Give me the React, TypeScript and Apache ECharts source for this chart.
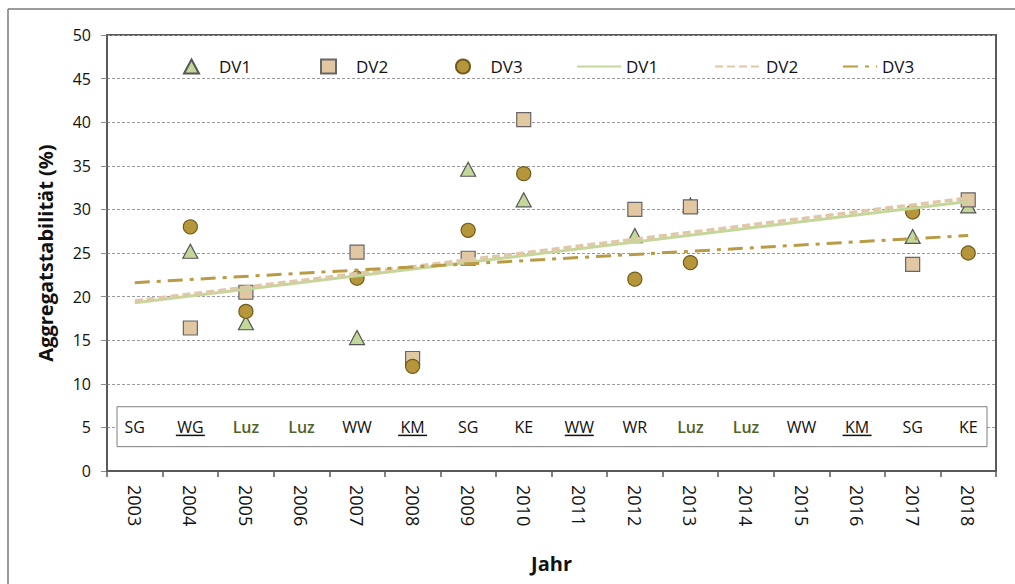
import React, { useEffect, useRef } from "react";
import * as echarts from "echarts";

const years = ["2003","2004","2005","2006","2007","2008","2009","2010","2011","2012","2013","2014","2015","2016","2017","2018"];
const dv1 = [null, 25.2, 17.0, null, 15.3, null, 34.6, 31.1, null, 27.0, 30.5, null, null, null, 26.9, 30.4];
const dv2 = [null, 16.4, 20.5, null, 25.1, 12.9, 24.4, 40.3, null, 30.0, 30.3, null, null, null, 23.7, 31.1];
const dv3 = [null, 28.0, 18.3, null, 22.1, 12.0, 27.6, 34.1, null, 22.0, 23.9, null, null, null, 29.7, 25.0];
const trendYears = ["2003", "2018"];
const trendDV1 = [19.3, 30.9];
const trendDV2 = [19.5, 31.3];
const trendDV3 = [21.6, 27.0];
const cropLabels = ["SG","WG","Luz","Luz","WW","KM","SG","KE","WW","WR","Luz","Luz","WW","KM","SG","KE"];
const cropUnderlined = [false,true,false,false,false,true,false,false,true,false,false,false,false,true,false,false];
const cropLabelRow = 5;
const cropBoxTop = 7.37;
const cropBoxBottom = 2.79;
const yTicks = { min: 0, max: 50, interval: 5 };

const FONT = "'Open Sans', 'Noto Sans', sans-serif";

const pts = (arr: (number | null)[]) =>
  arr.map((v, i) => (v == null ? null : [i, v])).filter((d) => d !== null);
const trend = (arr: number[]) => arr.map((v, i) => [years.indexOf(trendYears[i]), v]);

export default function App() {
  const ref = useRef<HTMLDivElement>(null);
  useEffect(() => {
    if (!ref.current) return;
    const chart = echarts.init(ref.current, null, { renderer: "svg" });
    const legendText = { fontFamily: FONT, fontSize: 17, color: "#111" };
    const scatterLegend = (name: string, left: number) => ({
      data: [name], left, top: 53, itemWidth: 15, itemHeight: 14, selectedMode: false,
      textStyle: { ...legendText, padding: [0, 0, 0, 15] },
      formatter: (n: string) => n.split(" ")[0],
    });
    const lineLegend = (name: string, left: number, w: number) => ({
      data: [name], left, top: 53, itemWidth: w, itemHeight: 14, selectedMode: false,
      itemStyle: { opacity: 0 },
      textStyle: { ...legendText },
      formatter: (n: string) => n.split(" ")[0],
    });
    chart.setOption({
      animation: false,
      backgroundColor: "#fff",
      textStyle: { fontFamily: FONT },
      graphic: [
        { type: "line", shape: { x1: 8, y1: 9, x2: 1015, y2: 9 }, style: { stroke: "#7a7a7a", lineWidth: 1.5 } },
        { type: "line", shape: { x1: 8, y1: 9, x2: 8, y2: 584 }, style: { stroke: "#7a7a7a", lineWidth: 1.5 } },
      ],
      legend: [
        scatterLegend("DV1", 178),
        scatterLegend("DV2", 315),
        scatterLegend("DV3", 450),
        lineLegend("DV1 Trend", 571, 44),
        lineLegend("DV2 Trend", 709, 46),
        lineLegend("DV3 Trend", 837, 34),
      ],
      grid: { left: 107, top: 35, right: 19, bottom: 113, show: true, borderColor: "#5a5a5a", borderWidth: 2 },
      xAxis: {
        type: "category",
        data: years,
        boundaryGap: true,
        name: "Jahr",
        nameLocation: "middle",
        nameGap: 82,
        nameTextStyle: { fontFamily: FONT, fontSize: 20, fontWeight: "bold", color: "#111" },
        axisLine: { show: true, lineStyle: { color: "#5a5a5a", width: 2 } },
        axisTick: { show: true, interval: 0, length: 6, lineStyle: { color: "#5a5a5a", width: 1.5 } },
        axisLabel: { interval: 0, rotate: -90, fontSize: 18, margin: 14, color: "#111", fontFamily: FONT },
        splitLine: { show: false },
      },
      yAxis: {
        type: "value",
        min: yTicks.min,
        max: yTicks.max,
        interval: yTicks.interval,
        name: "Aggregatstabilität (%)",
        nameLocation: "middle",
        nameGap: 52,
        nameRotate: 90,
        nameTextStyle: { fontFamily: FONT, fontSize: 20, fontWeight: "bold", color: "#111" },
        axisLine: { show: true, lineStyle: { color: "#5a5a5a", width: 2 } },
        axisTick: { show: true, length: 6, lineStyle: { color: "#8a8a8a", width: 1 } },
        axisLabel: { fontSize: 16, margin: 16, color: "#111", fontFamily: FONT },
        splitLine: { show: true, lineStyle: { color: "#9a9a9a", width: 1, type: [3, 2] } },
      },
      series: [
        {
          type: "custom",
          name: "crops",
          silent: true,
          z: 3,
          data: cropLabels.map((_, i) => [i, cropLabelRow]),
          renderItem: (params: any, api: any) => {
            const i = api.value(0);
            const p = api.coord([i, api.value(1)]);
            const children: any[] = [];
            if (params.dataIndex === 0) {
              const cs = params.coordSys;
              const t = api.coord([0, cropBoxTop])[1];
              const b = api.coord([0, cropBoxBottom])[1];
              children.push({
                type: "rect",
                shape: { x: cs.x + 10, y: t, width: cs.width - 19, height: b - t },
                style: { fill: "#fff", stroke: "#7f7f7f", lineWidth: 1 },
              });
            }
            const label = cropLabels[i];
            children.push({
              type: "text",
              x: p[0],
              y: p[1],
              style: {
                text: label,
                fill: label === "Luz" ? "#4f6228" : "#111",
                fontSize: 16,
                fontFamily: FONT,
                fontWeight: label === "Luz" ? 600 : "normal",
                align: "center",
                verticalAlign: "middle",
              },
            });
            if (cropUnderlined[i]) {
              const w = label.length * 14.5;
              children.push({
                type: "line",
                shape: { x1: p[0] - w / 2, y1: p[1] + 8, x2: p[0] + w / 2, y2: p[1] + 8 },
                style: { stroke: "#111", lineWidth: 1.5 },
              });
            }
            return { type: "group", children };
          },
        },
        {
          type: "scatter", name: "DV1", z: 4, symbol: "triangle", symbolSize: [15, 14],
          itemStyle: { color: "#c4d79b", borderColor: "#555", borderWidth: 1.2, opacity: 1 },
          data: pts(dv1),
        },
        {
          type: "scatter", name: "DV2", z: 4, symbol: "rect", symbolSize: 14,
          itemStyle: { color: "#e2c7a3", borderColor: "#666", borderWidth: 1.2, opacity: 1 },
          data: pts(dv2),
        },
        {
          type: "scatter", name: "DV3", z: 4, symbol: "circle", symbolSize: 14,
          itemStyle: { color: "#b5963a", borderColor: "#6e5a1c", borderWidth: 1.2, opacity: 1 },
          data: pts(dv3),
        },
        {
          type: "line", name: "DV1 Trend", z: 5, symbol: "none", silent: true,
          lineStyle: { color: "#c4d79b", width: 3, type: "solid" },
          itemStyle: { color: "#c4d79b" },
          data: trend(trendDV1),
        },
        {
          type: "line", name: "DV2 Trend", z: 5, symbol: "none", silent: true,
          lineStyle: { color: "#e0c8a6", width: 3.5, type: [8, 4] },
          itemStyle: { color: "#e0c8a6" },
          data: trend(trendDV2),
        },
        {
          type: "line", name: "DV3 Trend", z: 5, symbol: "none", silent: true,
          lineStyle: { color: "#b99b45", width: 3, type: [15, 7, 4, 7] },
          itemStyle: { color: "#b99b45" },
          data: trend(trendDV3),
        },
      ],
    });
    return () => chart.dispose();
  }, []);
  return <div ref={ref} style={{ position: "fixed", left: 0, top: 0, width: 1015, height: 584 }} />;
}
